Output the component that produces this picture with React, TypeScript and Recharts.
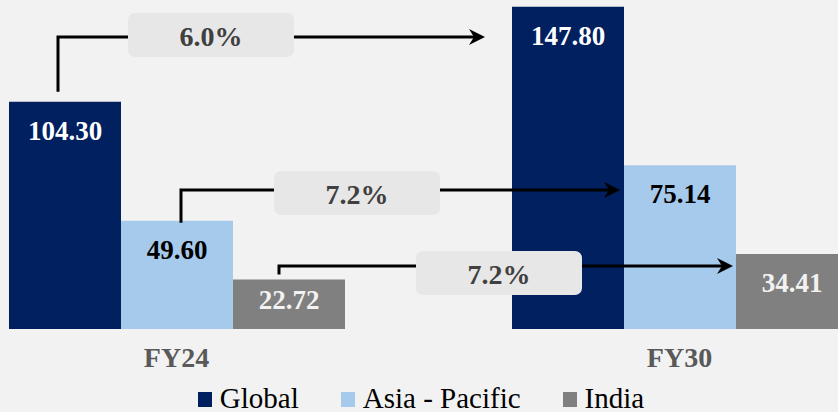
import { BarChart, Bar, XAxis, YAxis, Legend, LabelList } from 'recharts';

const categories = ['FY24', 'FY30'];
const globalValues = [104.3, 147.8];
const asiaPacificValues = [49.6, 75.14];
const indiaValues = [22.72, 34.41];
const seriesNames = ['Global', 'Asia - Pacific', 'India'];
const cagrLabels = ['6.0%', '7.2%', '7.2%'];

const data = categories.map((category, i) => ({
  category,
  global: globalValues[i],
  asia: asiaPacificValues[i],
  india: indiaValues[i],
}));

const FONT = '"Liberation Serif", "Times New Roman", serif';
const COLORS = ['#002060', '#a6caec', '#808080'];
const LABEL_COLORS = ['#ffffff', '#000000', '#f2f2f2'];

const CHART_W = 1006;
const CHART_H = 412;
const CHART_LEFT = -75;
const PLOT_TOP = 2;
const PLOT_BOTTOM = 329;
const Y_MAX = 150;
const yOf = (v: number) => PLOT_BOTTOM - (v / Y_MAX) * (PLOT_BOTTOM - PLOT_TOP);

// elbow arrows for the CAGR call-outs (screen coords)
const arrows = [
  { startX: 58, gap: 10, lineY: 37, endX: 485, boxX: 128, boxY: 13 },
  { startX: 181, gap: -2, lineY: 190, endX: 620, boxX: 274, boxY: 171 },
  { startX: 279, gap: 5, lineY: 266, endX: 733, boxX: 416, boxY: 251 },
];
const firstValues = [globalValues[0], asiaPacificValues[0], indiaValues[0]];

const renderLabel = (color: string) => (props: any) => {
  const vb = props.viewBox || {};
  const x = Number(props.x ?? vb.x);
  const y = Number(props.y ?? vb.y);
  const w = Number(props.width ?? vb.width);
  const h = Number(props.height ?? vb.height);
  const dy = Math.min(29, h / 2 - 4);
  return (
    <text
      x={x + w / 2}
      y={y + dy}
      textAnchor="middle"
      dominantBaseline="central"
      fill={color}
      fontFamily={FONT}
      fontWeight="bold"
      fontSize={27}
    >
      {Number(props.value).toFixed(2)}
    </text>
  );
};

const renderTick = (props: any) => (
  <text
    x={props.x}
    y={props.y + 38}
    textAnchor="middle"
    fill="#595959"
    fontFamily={FONT}
    fontWeight="bold"
    fontSize={28}
  >
    {props.payload.value}
  </text>
);

const renderLegend = (props: any) => {
  const items = [...(props.payload || [])].sort(
    (a: any, b: any) => seriesNames.indexOf(a.value) - seriesNames.indexOf(b.value)
  );
  return (
    <div
      style={{
        display: 'flex',
        justifyContent: 'center',
        height: 40,
        boxSizing: 'border-box',
        paddingTop: 10,
        paddingRight: 14,
        fontFamily: FONT,
        fontSize: 29,
        lineHeight: '28px',
        color: '#000',
      }}
    >
      {items.map((item: any, i: number) => (
        <div key={i} style={{ display: 'flex', alignItems: 'flex-end', marginLeft: i ? 42 : 0 }}>
          <span style={{ width: 14, height: 15, background: item.color, marginRight: 8, marginBottom: 5 }} />
          <span>{item.value}</span>
        </div>
      ))}
    </div>
  );
};

function Arrows() {
  return (
    <svg width={838} height={412} style={{ position: 'absolute', left: 0, top: 0 }}>
      {arrows.map((a, i) => {
        const sy = yOf(firstValues[i]) - a.gap;
        return (
          <g key={i}>
            <path
              d={`M${a.startX},${sy} V${a.lineY} H${a.endX - 10}`}
              fill="none"
              stroke="#000"
              strokeWidth={3}
            />
            <path
              d={`M${a.endX},${a.lineY} L${a.endX - 16},${a.lineY - 8} L${a.endX - 11},${a.lineY} L${a.endX - 16},${a.lineY + 8} Z`}
              fill="#000"
            />
            <rect x={a.boxX} y={a.boxY} width={166} height={44} rx={7} fill="#e7e7e7" />
            <text
              x={a.boxX + 83}
              y={a.boxY + 23}
              textAnchor="middle"
              dominantBaseline="central"
              fill="#404040"
              fontFamily={FONT}
              fontWeight="bold"
              fontSize={28}
            >
              {cagrLabels[i]}
            </text>
          </g>
        );
      })}
    </svg>
  );
}

export default function App() {
  return (
    <div style={{ position: 'relative', width: 838, height: 412, overflow: 'hidden', background: '#f2f2f2' }}>
      <style>{'body{margin:0}'}</style>
      <div style={{ position: 'absolute', left: CHART_LEFT, top: 0 }}>
        <BarChart
          width={CHART_W}
          height={CHART_H}
          data={data}
          barGap={0}
          barSize={112}
          margin={{ top: PLOT_TOP, right: 0, bottom: 0, left: 0 }}
        >
          <XAxis
            dataKey="category"
            axisLine={false}
            tickLine={false}
            tickSize={0}
            tickMargin={0}
            height={43}
            tick={renderTick}
          />
          <YAxis hide domain={[0, Y_MAX]} />
          <Legend verticalAlign="bottom" content={renderLegend} />
          <Bar dataKey="global" name={seriesNames[0]} fill={COLORS[0]} isAnimationActive={false}>
            <LabelList dataKey="global" content={renderLabel(LABEL_COLORS[0])} />
          </Bar>
          <Bar dataKey="asia" name={seriesNames[1]} fill={COLORS[1]} isAnimationActive={false}>
            <LabelList dataKey="asia" content={renderLabel(LABEL_COLORS[1])} />
          </Bar>
          <Bar dataKey="india" name={seriesNames[2]} fill={COLORS[2]} isAnimationActive={false}>
            <LabelList dataKey="india" content={renderLabel(LABEL_COLORS[2])} />
          </Bar>
        </BarChart>
      </div>
      <Arrows />
    </div>
  );
}
